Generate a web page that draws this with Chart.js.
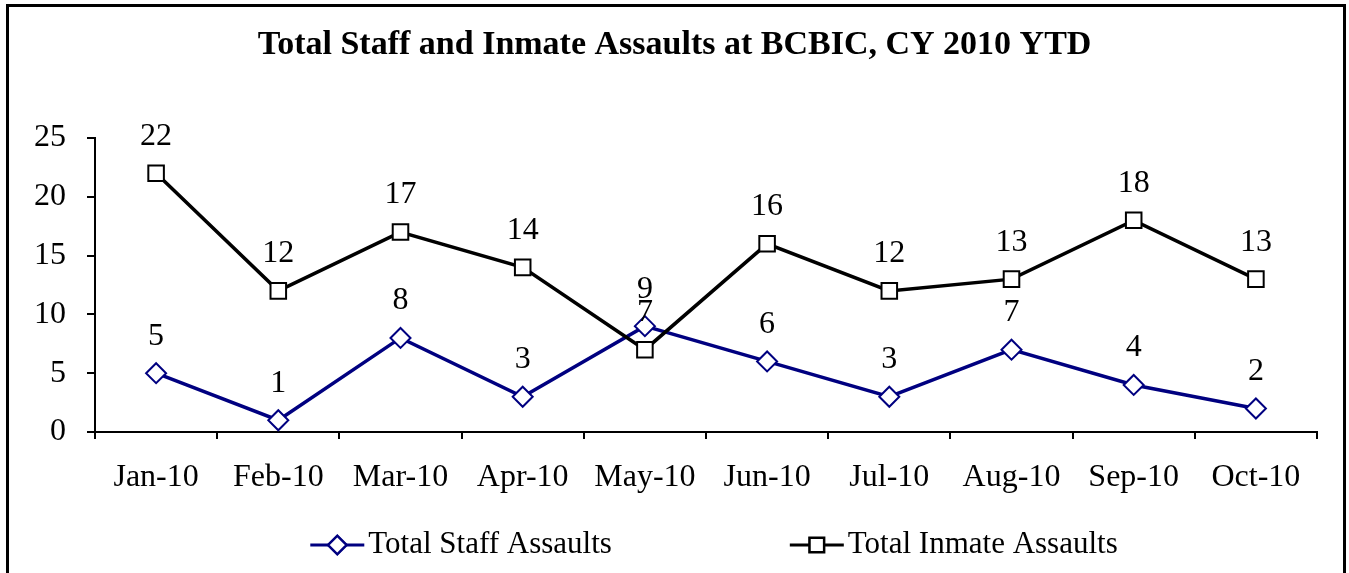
<!DOCTYPE html>
<html>
<head>
<meta charset="utf-8">
<script src="https://cdn.jsdelivr.net/npm/chart.js@4.4.1/dist/chart.umd.min.js"></script>
<style>
    html, body { margin: 0; padding: 0; background: #fff; }
    #wrap { position: relative; width: 1349px; height: 573px; overflow: hidden; }
    #frame { position: absolute; left: 6px; top: 4px; width: 1340px; height: 620px; border: 3px solid #000; box-sizing: border-box; }
    #chart { position: absolute; left: 0; top: 0; }
</style>
</head>
<body>
<div id="wrap">
    <div id="frame"></div>
    <canvas id="chart" width="1349" height="573"></canvas>
</div>
<script>
const months = ['Jan-10', 'Feb-10', 'Mar-10', 'Apr-10', 'May-10', 'Jun-10', 'Jul-10', 'Aug-10', 'Sep-10', 'Oct-10'];
const staffAssaults = [5, 1, 8, 3, 9, 6, 3, 7, 4, 2];
const inmateAssaults = [22, 12, 17, 14, 7, 16, 12, 13, 18, 13];
const yTicks = [0, 5, 10, 15, 20, 25];

const titleText = 'Total Staff and Inmate Assaults at BCBIC, CY 2010 YTD';
const serif = '"Liberation Serif", "Times New Roman", serif';
const navy = '#000080';

// value labels above every point
const valueLabels = {
    id: 'valueLabels',
    afterDatasetsDraw(chart) {
        const ctx = chart.ctx;
        ctx.save();
        ctx.font = '32px ' + serif;
        ctx.fillStyle = '#000';
        ctx.textAlign = 'center';
        ctx.textBaseline = 'middle';
        chart.data.datasets.forEach((ds, i) => {
            chart.getDatasetMeta(i).data.forEach((pt, j) => {
                ctx.fillText(ds.data[j], pt.x, pt.y - 37);
            });
        });
        ctx.restore();
    }
};

// title + excel style legend (line with marker)
const decorations = {
    id: 'decorations',
    afterDraw(chart) {
        const ctx = chart.ctx;
        const area = chart.chartArea;
        ctx.save();
        ctx.fillStyle = '#000';
        ctx.font = 'bold 34px ' + serif;
        ctx.textAlign = 'center';
        ctx.textBaseline = 'middle';
        ctx.fillText(titleText, chart.width / 2, 45);

        ctx.font = '31px ' + serif;
        ctx.textAlign = 'left';
        const symW = 54, gap = 178, ly = 545;
        const items = chart.data.datasets.map(ds => ({
            ds: ds, w: symW + 4 + ctx.measureText(ds.label).width
        }));
        const total = items.reduce((s, it) => s + it.w, 0) + gap * (items.length - 1);
        let x = (area.left + area.right) / 2 + 8 - total / 2;
        items.forEach(it => {
            ctx.strokeStyle = it.ds.borderColor;
            ctx.lineWidth = 3;
            ctx.beginPath();
            ctx.moveTo(x, ly);
            ctx.lineTo(x + symW, ly);
            ctx.stroke();
            Chart.helpers.drawPoint(ctx, {
                pointStyle: it.ds.pointStyle,
                radius: it.ds.pointRadius - 1,
                borderWidth: 2
            }, x + symW / 2, ly);
            ctx.fillStyle = '#fff';
            ctx.strokeStyle = it.ds.borderColor;
            ctx.lineWidth = 2;
            ctx.fill();
            ctx.stroke();
            ctx.fillStyle = '#000';
            ctx.fillText(it.ds.label, x + symW + 4, ly);
            x += it.w + gap;
        });
        ctx.restore();
    }
};

new Chart(document.getElementById('chart'), {
    type: 'line',
    data: {
        labels: months,
        datasets: [{
            label: 'Total Staff Assaults',
            data: staffAssaults,
            borderColor: navy,
            backgroundColor: '#fff',
            borderWidth: 3.5,
            pointStyle: 'rectRot',
            pointRadius: 10,
            pointBorderWidth: 2,
            pointBackgroundColor: '#fff',
            pointBorderColor: navy,
            tension: 0,
            order: 2
        }, {
            label: 'Total Inmate Assaults',
            data: inmateAssaults,
            borderColor: '#000',
            backgroundColor: '#fff',
            borderWidth: 3.5,
            pointStyle: 'rect',
            pointRadius: 11,
            pointBorderWidth: 2,
            pointBackgroundColor: '#fff',
            pointBorderColor: '#000',
            tension: 0,
            order: 1
        }]
    },
    options: {
        responsive: false,
        animation: false,
        layout: { padding: { left: 0, top: 138, right: 32, bottom: 0 } },
        plugins: {
            legend: { display: false },
            title: { display: false },
            tooltip: { enabled: false }
        },
        scales: {
            x: {
                offset: true,
                grid: { offset: true, drawOnChartArea: false, drawTicks: true, tickLength: 7, color: '#000', lineWidth: 2 },
                border: { display: true, color: '#000', width: 2 },
                ticks: { color: '#000', font: { family: serif, size: 32 }, padding: 19, maxRotation: 0 },
                afterFit(scale) { scale.height = 141; }
            },
            y: {
                min: 0,
                max: 25,
                afterBuildTicks(scale) { scale.ticks = yTicks.map(v => ({ value: v })); },
                grid: { drawOnChartArea: false, drawTicks: true, tickLength: 8, color: '#000', lineWidth: 2 },
                border: { display: true, color: '#000', width: 2 },
                ticks: { color: '#000', font: { family: serif, size: 32 }, padding: 21 },
                afterFit(scale) { scale.width = 95; }
            }
        }
    },
    plugins: [valueLabels, decorations]
});
</script>
</body>
</html>
